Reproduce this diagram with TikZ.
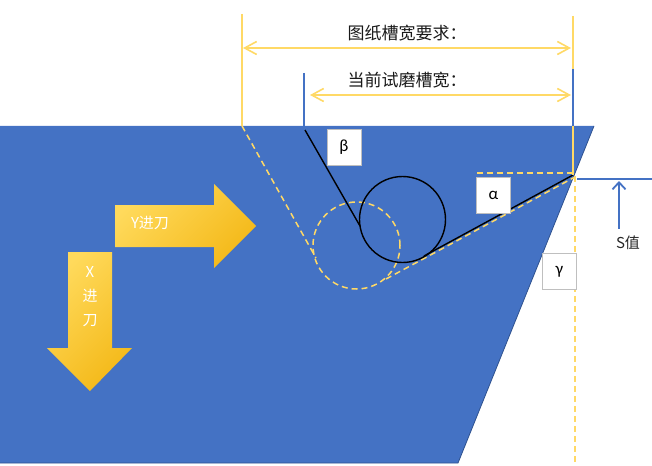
\documentclass[tikz,border=0pt]{standalone}
\usepackage{fontspec}
\setmainfont{Noto Sans CJK SC}
\newfontfamily\greekfont{Carlito}
\usetikzlibrary{arrows.meta}
\definecolor{slotblue}{HTML}{4472C4}
\definecolor{edgeblue}{HTML}{2F528F}
\definecolor{markyellow}{HTML}{FFD966}
\definecolor{feedlight}{HTML}{FFDA5C}
\definecolor{feeddark}{HTML}{F4B919}
\definecolor{boxgray}{HTML}{BFBFBF}
\begin{document}
\begin{tikzpicture}[x=1pt,y=-1pt,
  dimline/.style={markyellow,line width=1.6pt,{Straight Barb[length=12pt,width=13pt]}-{Straight Barb[length=12pt,width=13pt]}},
  guide/.style={markyellow,line width=1.5pt},
  guidedash/.style={markyellow,line width=1.5pt,dash pattern=on 6pt off 4pt},
  feed/.style={top color=feedlight,bottom color=feeddark,shading angle=45},
  anglebox/.style={fill=white,draw=boxgray,line width=0.8pt,minimum width=34pt,minimum height=36pt,inner sep=0pt,font=\greekfont\fontsize{17}{19}\selectfont}]
\useasboundingbox (0,0) rectangle (652,465);

% workpiece
\fill[slotblue] (0,126) -- (594,126) -- (458,463) -- (0,463) -- cycle;
\draw[edgeblue,line width=0.8pt] (594,126) -- (458,463) -- (0,463);

% feed directions
\shade[feed] (115,205) -- (214,205) -- (214,184) -- (256,226) -- (214,268) -- (214,247) -- (115,247) -- cycle;
\shade[feed] (68,252) -- (112,252) -- (112,348) -- (132,348) -- (90,391) -- (47,348) -- (68,348) -- cycle;
\begin{scope}[every node/.style={white,font=\fontsize{15}{17}\selectfont}]
    \node (yfeed) at (150,223) {Y进刀};
    \node[align=center] (xfeed) at (90,297) {X\\[7pt]进\\[7pt]刀};
\end{scope}

% reference points
\coordinate (wideL) at (242,14);
\coordinate (wideLtop) at (242,126);
\coordinate (wideR) at (573,16);
\coordinate (apex) at (573,175);
\coordinate (apexlow) at (575,462);
\coordinate (curL) at (304,73);
\coordinate (curLtop) at (304,127);
\coordinate (curRup) at (573,69);
\coordinate (curRtop) at (573,126);

% old groove (dashed)
\draw[guidedash] (wideLtop) -- (316,258);
\draw[guidedash] (356.5,245.5) circle[radius=43.5pt];
\draw[guidedash] (386,279) -- (575,177);
\draw[guidedash] (477,173) -- (573,173);
\draw[guidedash] (575,176) -- (apexlow);

% current groove
\node[draw,circle,line width=1.4pt,minimum size=86pt,inner sep=0pt] (wheel) at (402.5,219.5) {};
\draw[line width=1.4pt] (305,130) -- (360,226);
\draw[line width=1.4pt] (424,256) -- (apex);

% dimension lines
\draw[guide] (wideL) -- (wideLtop);
\draw[guide] (wideR) -- (apex);
\draw[slotblue,line width=1.5pt] (curL) -- (curLtop);
\draw[slotblue,line width=1.5pt] (curRup) -- (curRtop);
\coordinate (dwgA) at (243,48);
\coordinate (dwgB) at (571,48);
\coordinate (curA) at (310,95);
\coordinate (curB) at (571,95);
\draw[dimline] (dwgA) -- (dwgB);
\draw[dimline] (curA) -- (curB);
\begin{scope}[every node/.style={black!90,font=\fontsize{17}{19}\selectfont}]
    \node (dwgtext) at (407,33) {图纸槽宽要求：};
    \node (curtext) at (407,80) {当前试磨槽宽：};
\end{scope}

% angles
\begin{scope}[every node/.style={anglebox}]
    \node (beta) at (344,147) {β};
    \node (alpha) at (493.5,195) {α};
    \node (gamma) at (559.5,271.5) {γ};
\end{scope}

% S value
\coordinate (sL) at (577,179);
\coordinate (sR) at (652,179);
\coordinate (sTip) at (619,181);
\draw[slotblue,line width=2pt] (sL) -- (sR);
\node[font=\fontsize{15}{17}\selectfont,black!85] (sval) at (628,243) {S值};
\draw[slotblue,line width=1.8pt,-{Straight Barb[length=7pt,width=13pt]}] (sval.north -| sTip) ++(0,-4) -- (sTip);
\end{tikzpicture}
\end{document}
